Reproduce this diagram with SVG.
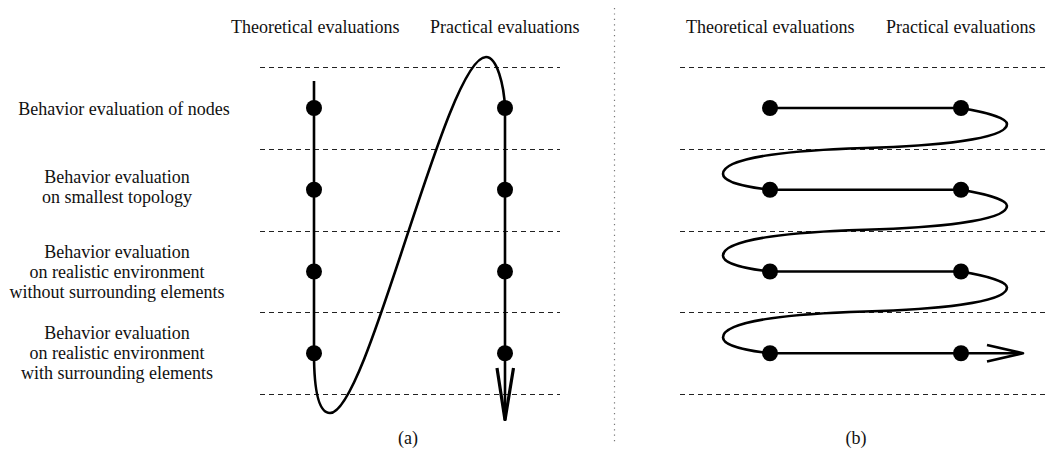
<svg xmlns="http://www.w3.org/2000/svg" width="1054" height="451" viewBox="0 0 1054 451">
<style>
text{font-family:"Liberation Serif","Times New Roman",serif;font-size:18px;fill:#111}
.mid{text-anchor:middle}
.dash{stroke:#222;stroke-width:1;stroke-dasharray:5 4;fill:none}
.sep{stroke:#777;stroke-width:1.2;stroke-dasharray:1.2 4.2;fill:none}
.flow{stroke:#000;stroke-width:2.6;fill:none;stroke-linejoin:round}
.head{stroke:#000;stroke-width:3.2;fill:none;stroke-linejoin:miter}
.dot{fill:#000}
</style>
<rect width="1054" height="451" fill="#fff"/>
<g id="headers">
<text x="231" y="33">Theoretical evaluations</text>
<text x="430" y="33">Practical evaluations</text>
<text x="686" y="33">Theoretical evaluations</text>
<text x="886" y="33">Practical evaluations</text>
</g>
<g id="row-labels">
<g id="label-nodes"><text class="mid" x="124" y="115">Behavior evaluation of nodes</text></g>
<g id="label-topology"><text class="mid" x="117" y="183">Behavior evaluation</text><text class="mid" x="117" y="203">on smallest topology</text></g>
<g id="label-without"><text class="mid" x="117" y="258">Behavior evaluation</text><text class="mid" x="117" y="278">on realistic environment</text><text class="mid" x="117" y="298">without surrounding elements</text></g>
<g id="label-with"><text class="mid" x="117" y="339">Behavior evaluation</text><text class="mid" x="117" y="359">on realistic environment</text><text class="mid" x="117" y="379">with surrounding elements</text></g>
</g>
<g id="grid">
<path class="dash" d="M260,67.5H560M260,149.5H560M260,231.5H560M260,312.5H560M260,394.5H560"/>
<path class="dash" d="M680,67.5H1045M680,149.5H1045M680,231.5H1045M680,312.5H1045M680,394.5H1045"/>
<path class="sep" d="M614.5,8V444"/>
</g>
<g id="connectors">
<path class="flow" d="M314,81L314,353.25C314,395 320,413 330,413C368,413 446,57 486,57C497,57 504,85 505,108L505,421"/>
<path class="head" d="M497,368L505,420L513.5,368"/>
<path class="flow" d="M770,108H961C985,112 1007,118 1007,124C1007,140 930,146 865,148C800,150 723,156 723,174C723,182 745,187 770,189.75H961C985,193.75 1007,199.75 1007,205.75C1007,221.75 930,227.75 865,229.75C800,231.75 723,237.75 723,255.75C723,263.75 745,268.75 770,271.5H961C985,275.5 1007,281.5 1007,287.5C1007,303.5 930,309.5 865,311.5C800,313.5 723,319.5 723,337.5C723,345.5 745,350.5 770,353.25H1022"/>
<path class="flow" d="M987,345L1023,353.25L987,361.5"/>
</g>
<g id="nodes-a">
<circle id="a-t1" class="dot" cx="314" cy="108" r="8"/>
<circle id="a-t2" class="dot" cx="314" cy="189.75" r="8"/>
<circle id="a-t3" class="dot" cx="314" cy="271.5" r="8"/>
<circle id="a-t4" class="dot" cx="314" cy="353.25" r="8"/>
<circle id="a-p1" class="dot" cx="505" cy="108" r="8"/>
<circle id="a-p2" class="dot" cx="505" cy="189.75" r="8"/>
<circle id="a-p3" class="dot" cx="505" cy="271.5" r="8"/>
<circle id="a-p4" class="dot" cx="505" cy="353.25" r="8"/>
</g>
<g id="nodes-b">
<circle id="b-t1" class="dot" cx="770" cy="108" r="8"/>
<circle id="b-t2" class="dot" cx="770" cy="189.75" r="8"/>
<circle id="b-t3" class="dot" cx="770" cy="271.5" r="8"/>
<circle id="b-t4" class="dot" cx="770" cy="353.25" r="8"/>
<circle id="b-p1" class="dot" cx="961" cy="108" r="8"/>
<circle id="b-p2" class="dot" cx="961" cy="189.75" r="8"/>
<circle id="b-p3" class="dot" cx="961" cy="271.5" r="8"/>
<circle id="b-p4" class="dot" cx="961" cy="353.25" r="8"/>
</g>
<g id="captions">
<text class="mid" x="408" y="444">(a)</text>
<text class="mid" x="856" y="444">(b)</text>
</g>
</svg>
